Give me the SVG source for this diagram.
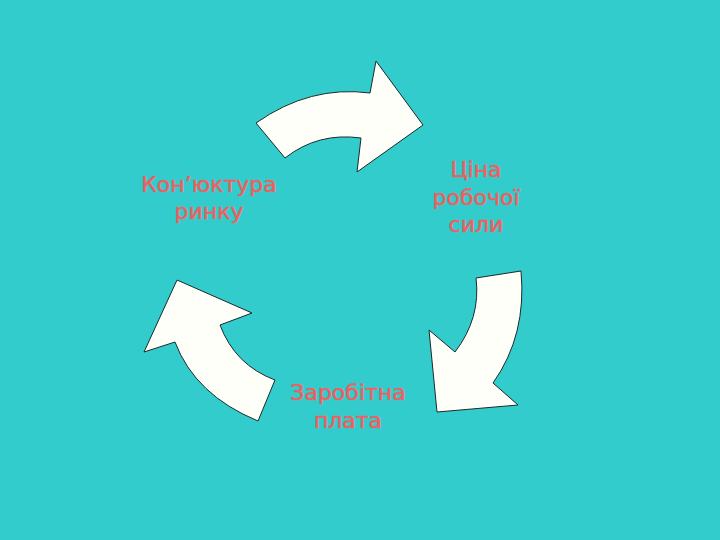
<svg xmlns="http://www.w3.org/2000/svg" width="720" height="540" viewBox="0 0 720 540">
<style>
.arrow{fill:#FFFFFA;stroke:#1a2a2a;stroke-width:1;stroke-linejoin:miter}
.lbl{font-family:"DejaVu Sans",Verdana,sans-serif;font-size:22px;fill:#EE6060;stroke:#EE6060;stroke-width:0.5;text-anchor:middle}
</style>
<rect width="720" height="540" fill="#33CCCC"/>
<g id="connectors">
<path id="arrow-top" class="arrow" d="M256,123 Q310,85 370,93 L376,61 L423,125 L357,172 L361,138 Q318,132 285,158 Z"/>
<path id="arrow-right" class="arrow" d="M476,278 L521,271 Q527,335 493,383 L518,405 L437,412 L429,330 L455,352 Q481,318 476,278 Z"/>
<path id="arrow-left" class="arrow" d="M275,380 L258,421 Q195,395 175,342 L144,352 L177,280 L252,313 L220,325 Q235,365 275,380 Z"/>
</g>
<g id="node-market">
<text class="lbl" x="209" y="192">Кон’юктура</text>
<text class="lbl" x="209" y="219">ринку</text>
</g>
<g id="node-price">
<text class="lbl" x="476" y="177">Ціна</text>
<text class="lbl" x="476" y="205">робочої</text>
<text class="lbl" x="476" y="232">сили</text>
</g>
<g id="node-wage">
<text class="lbl" x="348" y="400">Заробітна</text>
<text class="lbl" x="348" y="428">плата</text>
</g>
</svg>
